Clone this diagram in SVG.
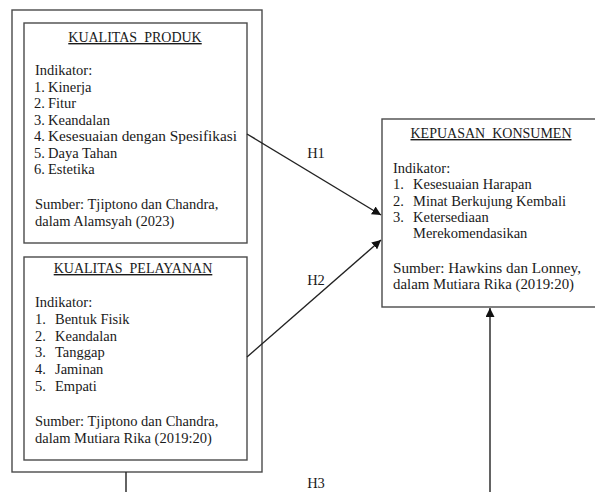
<svg xmlns="http://www.w3.org/2000/svg" width="595" height="492" viewBox="0 0 595 492">
<style>
.box{fill:#fff;stroke:#4a4a4a;stroke-width:1.4}
.t{font-family:"Liberation Serif","Times New Roman",serif;font-size:14.5px;fill:#1a1a1a}
.ttl{text-anchor:middle;text-decoration:underline;white-space:pre;font-size:14px}
.conn{stroke:#222;stroke-width:1.4;fill:none}
.lbl{font-family:"Liberation Serif","Times New Roman",serif;font-size:14.5px;fill:#1a1a1a;text-anchor:middle}
</style>
<defs>
<marker id="ah" viewBox="0 0 10 10" refX="10" refY="5" markerWidth="9" markerHeight="9" markerUnits="userSpaceOnUse" orient="auto">
<path d="M0,0 L10,5 L0,10 z" fill="#111"/>
</marker>
</defs>
<rect width="595" height="492" fill="#fff"/>
<g id="outer">
<rect class="box" x="12" y="10" width="250" height="462"/>
</g>
<g id="kualitas-produk">
<rect class="box" x="24" y="23" width="223" height="220"/>
<text class="t ttl" x="135" y="42">KUALITAS  PRODUK</text>
<text class="t" x="35" y="75">Indikator:</text>
<text class="t" x="34" y="92">1.</text><text class="t" x="48" y="92">Kinerja</text>
<text class="t" x="34" y="108">2.</text><text class="t" x="48" y="108">Fitur</text>
<text class="t" x="34" y="125">3.</text><text class="t" x="48" y="125">Keandalan</text>
<text class="t" x="34" y="141">4.</text><text class="t" x="48" y="141" textLength="189" lengthAdjust="spacingAndGlyphs">Kesesuaian dengan Spesifikasi</text>
<text class="t" x="34" y="158">5.</text><text class="t" x="48" y="158">Daya Tahan</text>
<text class="t" x="34" y="174">6.</text><text class="t" x="48" y="174">Estetika</text>
<text class="t" x="35" y="209">Sumber: Tjiptono dan Chandra,</text>
<text class="t" x="35" y="226">dalam Alamsyah (2023)</text>
</g>
<g id="kualitas-pelayanan">
<rect class="box" x="24" y="257" width="223" height="203"/>
<text class="t ttl" x="133" y="273">KUALITAS  PELAYANAN</text>
<text class="t" x="35" y="307">Indikator:</text>
<text class="t" x="35" y="324">1.</text><text class="t" x="55" y="324">Bentuk Fisik</text>
<text class="t" x="35" y="341">2.</text><text class="t" x="55" y="341">Keandalan</text>
<text class="t" x="35" y="357">3.</text><text class="t" x="55" y="357">Tanggap</text>
<text class="t" x="35" y="374">4.</text><text class="t" x="55" y="374">Jaminan</text>
<text class="t" x="35" y="391">5.</text><text class="t" x="55" y="391">Empati</text>
<text class="t" x="35" y="426">Sumber: Tjiptono dan Chandra,</text>
<text class="t" x="35" y="443">dalam Mutiara Rika (2019:20)</text>
</g>
<g id="kepuasan-konsumen">
<rect class="box" x="382" y="119" width="225" height="188"/>
<text class="t ttl" x="491" y="138">KEPUASAN  KONSUMEN</text>
<text class="t" x="393" y="173">Indikator:</text>
<text class="t" x="393" y="189">1.</text><text class="t" x="413" y="189">Kesesuaian Harapan</text>
<text class="t" x="393" y="206">2.</text><text class="t" x="413" y="206">Minat Berkujung Kembali</text>
<text class="t" x="393" y="222">3.</text><text class="t" x="413" y="222">Ketersediaan</text>
<text class="t" x="413" y="238">Merekomendasikan</text>
<text class="t" x="393" y="273" textLength="188" lengthAdjust="spacingAndGlyphs">Sumber: Hawkins dan Lonney,</text>
<text class="t" x="393" y="289" textLength="181" lengthAdjust="spacingAndGlyphs">dalam Mutiara Rika (2019:20)</text>
</g>
<g id="connectors">
<line class="conn" x1="247" y1="134" x2="381" y2="215" marker-end="url(#ah)"/>
<line class="conn" x1="247" y1="357" x2="381" y2="240" marker-end="url(#ah)"/>
<line class="conn" x1="126" y1="472" x2="126" y2="492"/>
<line class="conn" x1="490" y1="492" x2="490" y2="308" marker-end="url(#ah)"/>
<text class="lbl" x="316" y="158">H1</text>
<text class="lbl" x="316" y="285">H2</text>
<text class="lbl" x="316" y="488">H3</text>
</g>
</svg>
